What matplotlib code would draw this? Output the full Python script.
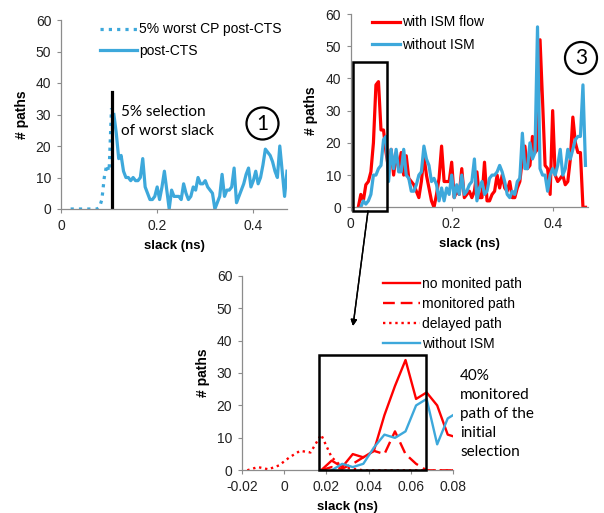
import matplotlib
matplotlib.use("Agg")
import matplotlib.pyplot as plt
from matplotlib.patches import Rectangle, Ellipse
import numpy as np

plt.rcParams['font.family'] = ['Liberation Sans', 'DejaVu Sans']

RED = '#FF0000'
BLUE = '#3DA8DB'
GREY = '#8C8C8C'

# ---- panel 1 : post-CTS slack distribution
p1_worst_x = [0.020, 0.025, 0.030, 0.035, 0.040, 0.045, 0.050, 0.055, 0.060, 0.065,
              0.070, 0.075, 0.080, 0.085, 0.090, 0.095, 0.100, 0.105]
p1_worst_y = [0, 0, 0, 0, 0, 0, 0, 0, 0, 0, 0, 0, 0.5, 3, 10, 14, 12, 32]

p1_cts_x = [0.110, 0.115, 0.120, 0.125, 0.130, 0.135, 0.140, 0.145, 0.150, 0.155,
            0.160, 0.165, 0.170, 0.175, 0.180, 0.185, 0.190, 0.195, 0.200, 0.205,
            0.210, 0.215, 0.220, 0.225, 0.230, 0.235, 0.240, 0.245, 0.250, 0.255,
            0.260, 0.265, 0.270, 0.275, 0.280, 0.285, 0.290, 0.295, 0.300, 0.305,
            0.310, 0.315, 0.320, 0.325, 0.330, 0.335, 0.340, 0.345, 0.350, 0.355,
            0.360, 0.365, 0.370, 0.375, 0.380, 0.385, 0.390, 0.395, 0.400, 0.405,
            0.410, 0.415, 0.420, 0.425, 0.430, 0.435, 0.440, 0.445, 0.450, 0.455,
            0.460, 0.465, 0.470]
p1_cts_y = [30, 24, 16, 17, 12, 10, 10, 9, 10, 9,
            9, 10, 16, 7, 5, 3, 3, 4, 7, 3,
            7, 12, 6, 0, 6, 4, 4, 4, 3, 8,
            5, 3, 4, 7, 6, 10, 8, 8, 9, 7,
            6, 5, 0, 2, 4, 11, 4, 6, 6, 7,
            13, 2, 4, 6, 8, 11, 13, 7, 9, 12,
            8, 10, 14, 19, 18, 17, 15, 12, 10, 20,
            12, 4, 12]
p1_select_x = 0.1055
p1_select_top = 37

# ---- panel 3 : with / without ISM flow
p3_ism_x = [0.015, 0.020, 0.025, 0.030, 0.035, 0.040, 0.045, 0.050, 0.055, 0.060,
            0.065, 0.070, 0.075, 0.080, 0.085, 0.090, 0.095, 0.100, 0.105, 0.110,
            0.115, 0.120, 0.125, 0.130, 0.135, 0.140, 0.145, 0.150, 0.155, 0.160,
            0.165, 0.170, 0.175, 0.180, 0.185, 0.190, 0.195, 0.200, 0.205, 0.210,
            0.215, 0.220, 0.225, 0.230, 0.235, 0.240, 0.245, 0.250, 0.255, 0.260,
            0.265, 0.270, 0.275, 0.280, 0.285, 0.290, 0.295, 0.300, 0.305, 0.310,
            0.315, 0.320, 0.325, 0.330, 0.335, 0.340, 0.345, 0.350, 0.355, 0.360,
            0.365, 0.370, 0.375, 0.380, 0.385, 0.390, 0.395, 0.400, 0.405, 0.410,
            0.415, 0.420, 0.425, 0.430, 0.435, 0.440, 0.445, 0.450, 0.455, 0.460,
            0.465]
p3_ism_y = [0, 4, 2, 7, 8, 11, 20, 38, 39, 24,
            24, 17, 12, 18, 10, 17, 12, 17, 10, 16,
            9, 8, 7, 5, 3, 8, 16, 10, 6, 2,
            0, 4, 9, 19, 8, 8, 8, 14, 3, 5,
            4, 12, 3, 4, 5, 3, 5, 11, 3, 3,
            14, 2, 2, 4, 5, 10, 6, 10, 6, 5,
            8, 3, 3, 6, 8, 15, 19, 12, 13, 22,
            17, 18, 52, 33, 13, 12, 4, 30, 10, 8,
            9, 10, 7, 8, 15, 28, 20, 17, 17, 0,
            0]

p3_noism_x = [0.020, 0.025, 0.030, 0.035, 0.040, 0.045, 0.050, 0.055, 0.060, 0.065,
              0.070, 0.075, 0.080, 0.085, 0.090, 0.095, 0.100, 0.105, 0.110, 0.115,
              0.120, 0.125, 0.130, 0.135, 0.140, 0.145, 0.150, 0.155, 0.160, 0.165,
              0.170, 0.175, 0.180, 0.185, 0.190, 0.195, 0.200, 0.205, 0.210, 0.215,
              0.220, 0.225, 0.230, 0.235, 0.240, 0.245, 0.250, 0.255, 0.260, 0.265,
              0.270, 0.275, 0.280, 0.285, 0.290, 0.295, 0.300, 0.305, 0.310, 0.315,
              0.320, 0.325, 0.330, 0.335, 0.340, 0.345, 0.350, 0.355, 0.360, 0.365,
              0.370, 0.375, 0.380, 0.385, 0.390, 0.395, 0.400, 0.405, 0.410, 0.415,
              0.420, 0.425, 0.430, 0.435, 0.440, 0.445, 0.450, 0.455, 0.460, 0.465]
p3_noism_y = [0, 2, 1, 2, 4, 10, 10, 12, 13, 21,
              22, 8, 18, 12, 18, 11, 11, 18, 10, 9,
              5, 5, 7, 10, 11, 19, 15, 13, 8, 9,
              7, 2, 6, 2, 6, 4, 10, 3, 7, 4,
              10, 4, 5, 7, 8, 15, 2, 6, 8, 4,
              5, 9, 10, 10, 11, 13, 11, 8, 4, 3,
              5, 4, 8, 9, 23, 12, 12, 20, 15, 17,
              56, 12, 10, 10, 5, 10, 12, 10, 13, 18,
              10, 12, 18, 15, 18, 21, 22, 22, 38, 13]

# ---- zoomed panel : selection detail
z_x = [-0.0175, -0.0125, -0.0075, -0.0025, 0.0025, 0.0075, 0.0125, 0.0175, 0.0225,
       0.0275, 0.0325, 0.0375, 0.0425, 0.0475, 0.0525, 0.0575, 0.0625, 0.0675,
       0.0725, 0.0775, 0.0825]
z_delayed = [0, 1, 0.3, 1.5, 4, 6, 5.5, 11, 4, 1, 0.5, 0, 0, 0, 0, 0, 0, 0, 0, 0, 0]
z_sel_x = z_x[7:]
z_nomon = [0, 3, 1, 5, 4, 6, 17, 26, 34, 22, 24, 20, 11, 10]
z_mon = [0, 1, 0.5, 2, 4, 6, 5, 12, 5, 2, 0, 0, 0, 0]
z_noism_x = z_x[8:]
z_noism = [0, 2, 1, 2, 7, 11, 10, 12, 20, 22, 8, 16, 18]

TICK_FS = 10
LEG_FS = 10


def style_axes(ax, xlim, xticks, xlabels):
    ax.set_xlim(*xlim)
    ax.set_ylim(0, 60)
    ax.set_xticks(xticks)
    ax.set_xticklabels(xlabels)
    ax.set_yticks(range(0, 61, 10))
    for s in ['top', 'right']:
        ax.spines[s].set_visible(False)
    for s in ['left', 'bottom']:
        ax.spines[s].set_color(GREY)
        ax.spines[s].set_linewidth(0.9)
    ax.tick_params(axis='both', direction='out', length=3, width=0.8,
                   color=GREY, labelsize=TICK_FS, labelcolor='#222222', pad=4)
    ax.set_xlabel('slack (ns)', fontsize=9.5, fontweight='bold', labelpad=5)
    ax.set_ylabel('# paths', fontsize=10, fontweight='bold', labelpad=5)


W, H = 604, 513
fig = plt.figure(figsize=(W / 100, H / 100), dpi=100)


def px_axes(l, r, t, b):
    return fig.add_axes([l / W, 1 - b / H, (r - l) / W, (b - t) / H])


# panel 1
ax1 = px_axes(61, 287, 20, 209)
ax1.plot(p1_worst_x, p1_worst_y, color=BLUE, lw=2.3, linestyle=(0, (1, 1.6)),
         label='5% worst CP post-CTS')
ax1.plot(p1_cts_x, p1_cts_y, color=BLUE, lw=2.3, label='post-CTS')
ax1.plot([p1_select_x, p1_select_x], [0, p1_select_top], color='black', lw=2.3)
style_axes(ax1, (0, 0.47), [0, 0.2, 0.4], ['0', '0.2', '0.4'])
ax1.legend(loc='upper left', bbox_to_anchor=(100 / W, 1 - 22.5 / H),
           bbox_transform=fig.transFigure, frameon=False, fontsize=LEG_FS,
           handlelength=2.65, handletextpad=0.15, labelspacing=0.55, borderpad=0,
           borderaxespad=0)
fig.text(121 / W, 1 - 121.5 / H, '5% selection\nof worst slack', family='Lato',
         fontsize=11, va='center', ha='left', linespacing=1.42)

# panel 3
ax3 = px_axes(350.7, 588, 14, 207.3)
ax3.plot(p3_ism_x, p3_ism_y, color=RED, lw=2.3, label='with ISM flow')
ax3.plot(p3_noism_x, p3_noism_y, color=BLUE, lw=2.3, label='without ISM')
ax3.add_patch(Rectangle((0.004, -1), 0.067, 46, fill=False, ec='black', lw=1.8,
                        clip_on=False, zorder=5))
style_axes(ax3, (0, 0.47), [0, 0.2, 0.4], ['0', '0.2', '0.4'])
ax3.legend(loc='upper left', bbox_to_anchor=(371.7 / W, 1 - 15.5 / H),
           bbox_transform=fig.transFigure, frameon=False, fontsize=LEG_FS,
           handlelength=2.05, handletextpad=0.15, labelspacing=0.62, borderpad=0,
           borderaxespad=0)

# zoomed panel
axz = px_axes(242, 453, 275.7, 470.3)
axz.plot(z_sel_x, z_nomon, color=RED, lw=1.7, label='no monited path')
axz.plot(z_sel_x, z_mon, color=RED, lw=1.7, linestyle=(0, (5, 2.5)),
         label='monitored path')
axz.plot(z_x, z_delayed, color=RED, lw=1.7, linestyle=(0, (1, 1.6)),
         label='delayed path')
axz.plot(z_noism_x, z_noism, color=BLUE, lw=1.7, label='without ISM')
axz.add_patch(Rectangle((0.0165, 0), 0.0505, 35.6, fill=False, ec='black', lw=1.8,
                        clip_on=False, zorder=5))
style_axes(axz, (-0.02, 0.08), [-0.02, 0, 0.02, 0.04, 0.06, 0.08],
           ['-0.02', '0', '0.02', '0.04', '0.06', '0.08'])
axz.legend(loc='upper left', bbox_to_anchor=(382.7 / W, 1 - 277 / H),
           bbox_transform=fig.transFigure, frameon=False, fontsize=LEG_FS,
           handlelength=2.65, handletextpad=0.15, labelspacing=0.43, borderpad=0,
           borderaxespad=0)
fig.text(460 / W, 1 - 414 / H, '40%\nmonitored\npath of the\ninitial\nselection',
         family='Lato', fontsize=11, va='center', ha='left', linespacing=1.47)

# numbered circles
for cx, cy, num in [(262.5, 123.5, '1'), (581, 58, '3')]:
    fig.add_artist(Ellipse((cx / W, 1 - cy / H), 32 / W, 32 / H, fill=False,
                           ec='black', lw=1.6, transform=fig.transFigure))
    fig.text(cx / W, 1 - cy / H, num, family='Lato', fontsize=15,
             ha='center', va='center')

# arrow from the box of panel 3 to the zoomed panel
fig.add_artist(plt.annotate('', xy=(353 / W, 1 - 326 / H), xytext=(368 / W, 1 - 211 / H),
                            xycoords='figure fraction', textcoords='figure fraction',
                            arrowprops=dict(arrowstyle='-|>', color='black', lw=1.0,
                                            mutation_scale=9, shrinkA=0, shrinkB=0)))

fig.savefig('out.png', dpi=100)
